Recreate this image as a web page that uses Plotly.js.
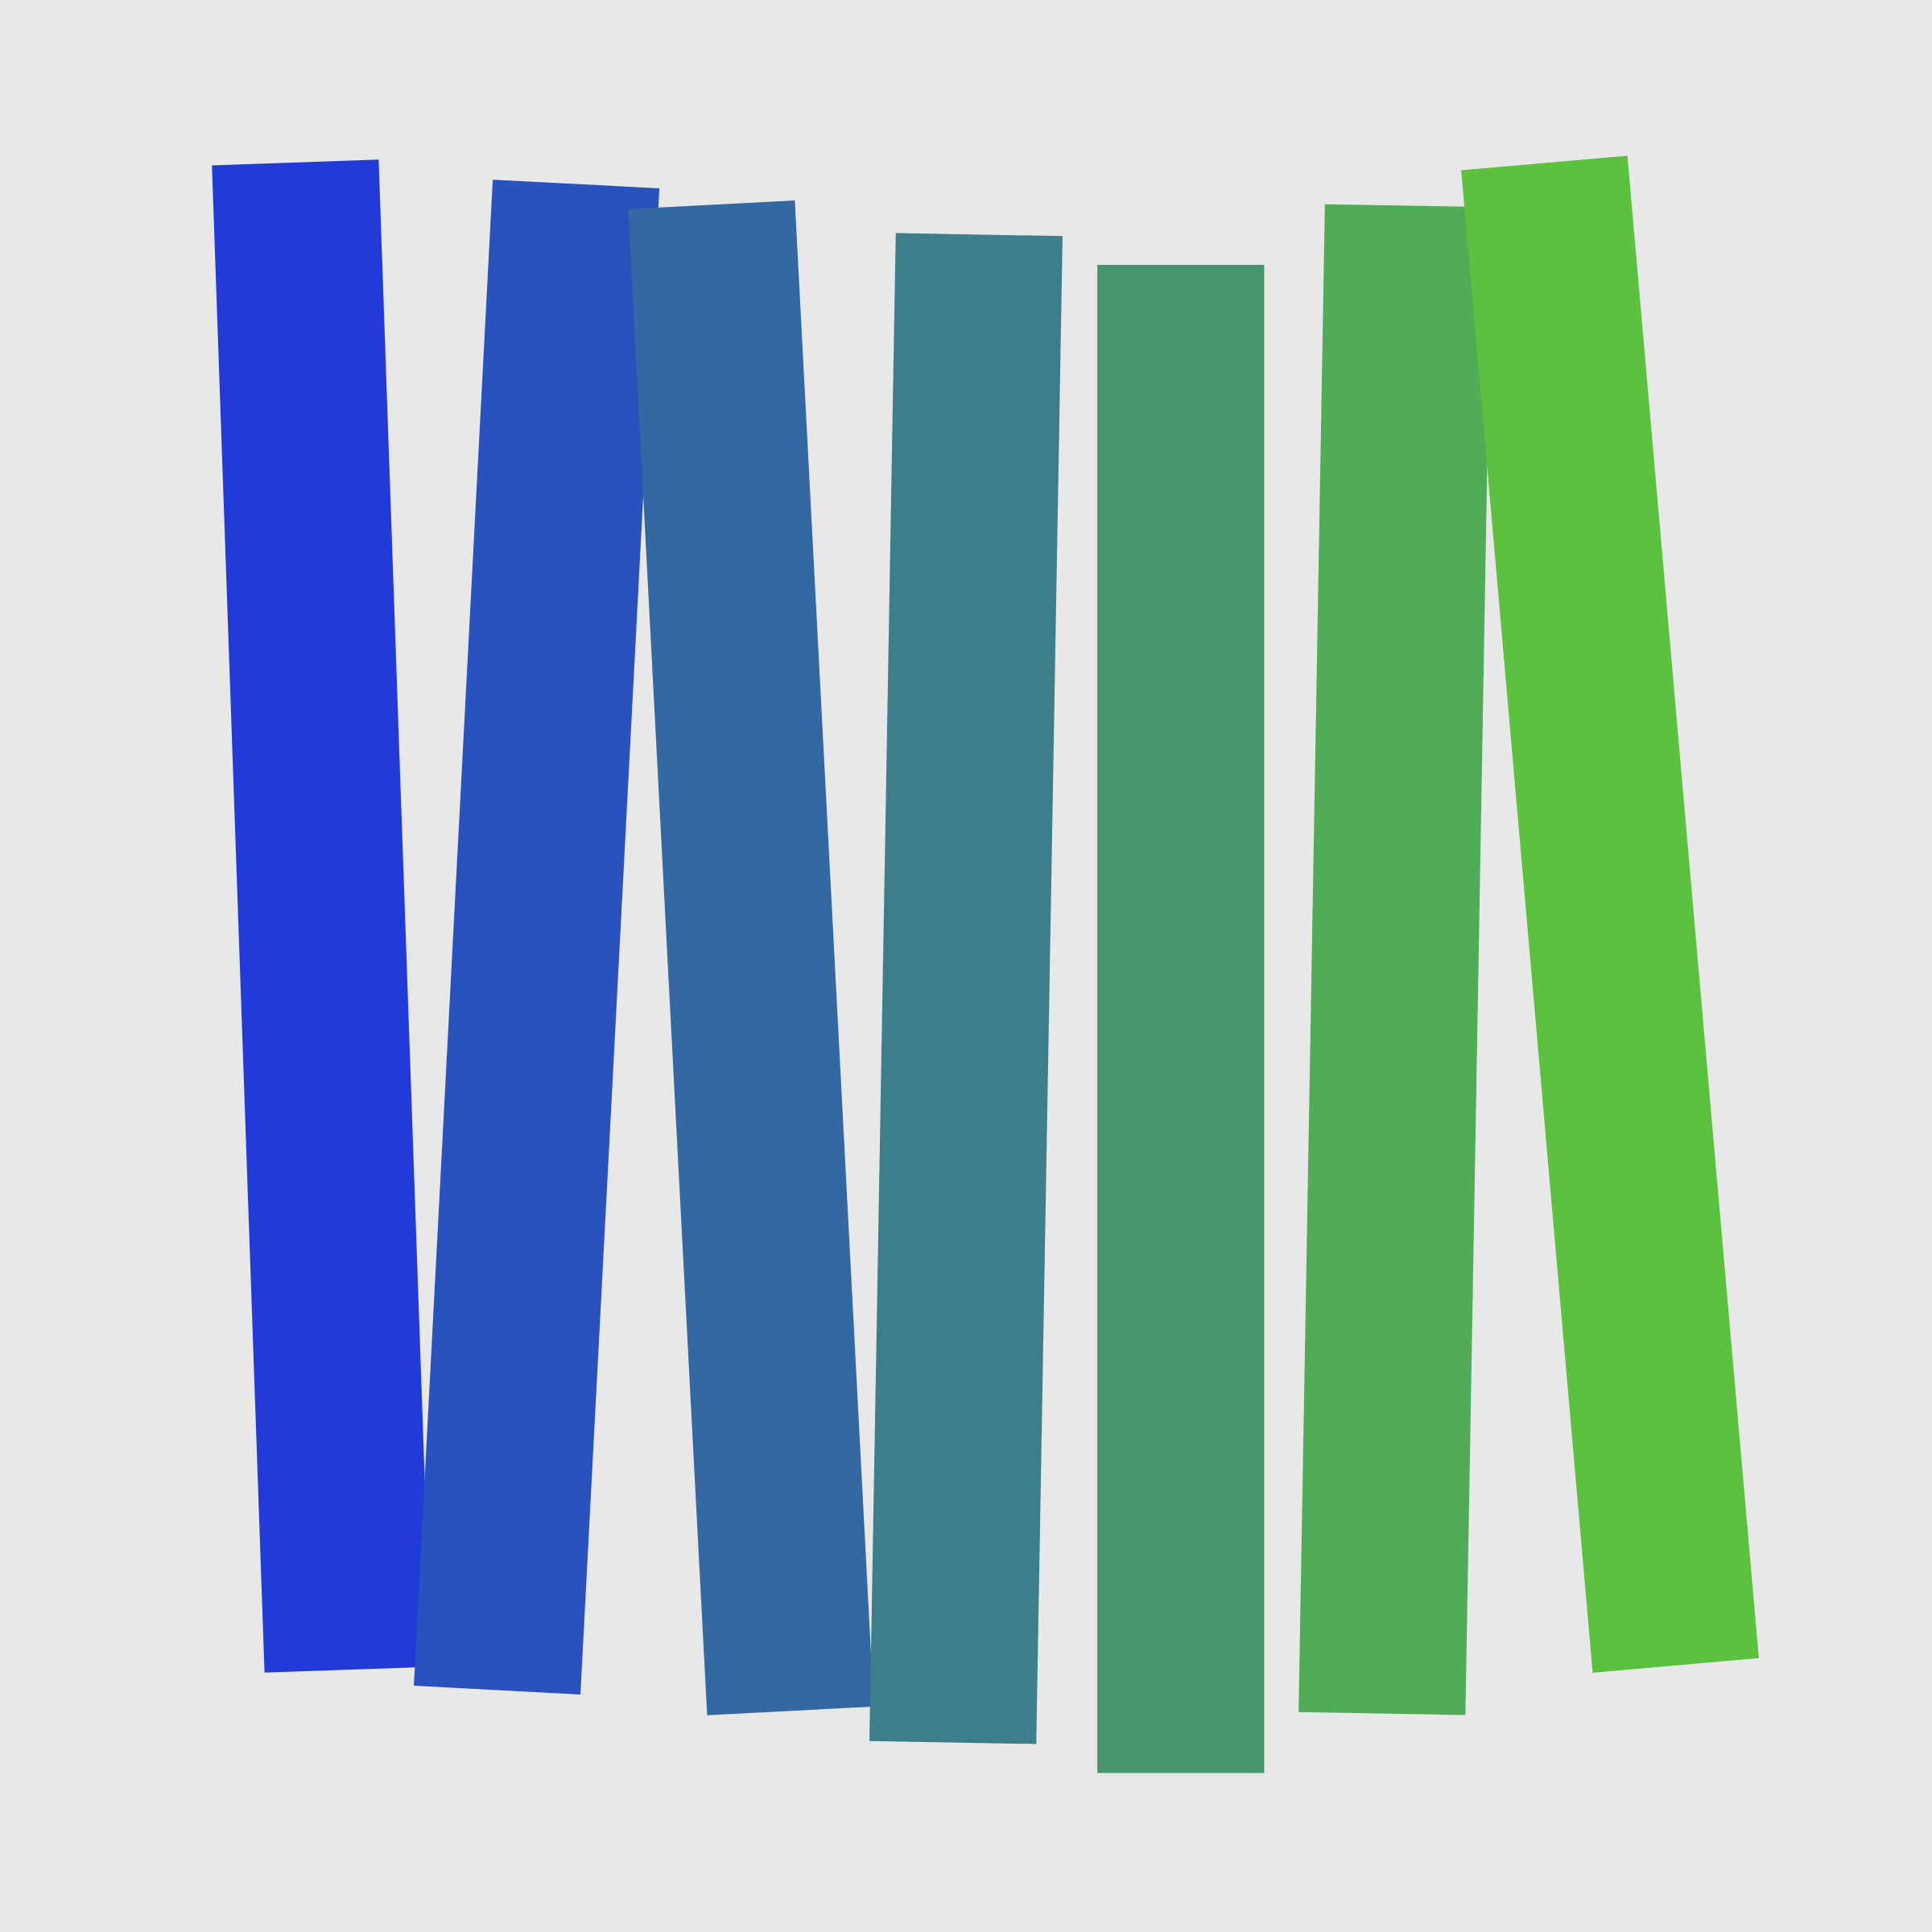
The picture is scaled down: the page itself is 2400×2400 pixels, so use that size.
<!DOCTYPE html>
<html>
<head>
<meta charset="utf-8">
<script src="https://cdn.plot.ly/plotly-3.0.1.min.js"></script>
<style>
  html, body { margin: 0; padding: 0; background: #E8E8E8; }
  #chart { width: 2400px; height: 2400px; }
</style>
</head>
<body>
<div id="chart"></div>
<script>
// Data (units: the chart's own 0..1568 coordinate frame)
const categories = ['A', 'B', 'C', 'D', 'E', 'F', 'G'];
const barLength = [1224, 1224, 1224, 1224, 1224, 1224, 1224];
const tiltDeg = [2, -3, 3, -1, 0, -1, 5];
const centerX = [261, 435.5, 609.5, 784, 958.3, 1132.3, 1306.7];
const centerY = [743.5, 760.5, 777.4, 802.3, 827, 778.8, 742];
const barColors = ['#223BD8', '#2A52BE', '#3468A3', '#3C7E8A', '#47956F', '#50AC57', '#5BC13E'];

const BAR_WIDTH = 135.4;

const traces = categories.map((name, i) => {
  const t = tiltDeg[i] * Math.PI / 180;
  const ux = Math.sin(t), uy = Math.cos(t);   // along the bar (downward)
  const vx = Math.cos(t), vy = -Math.sin(t);  // across the bar
  const hl = barLength[i] / 2, hw = BAR_WIDTH / 2;
  const cx = centerX[i], cy = centerY[i];
  const xs = [], ys = [];
  [[-1, -1], [-1, 1], [1, 1], [1, -1], [-1, -1]].forEach(([a, b]) => {
    xs.push(cx + a * hl * ux + b * hw * vx);
    ys.push(cy + a * hl * uy + b * hw * vy);
  });
  return {
    type: 'scatter',
    mode: 'lines',
    name: name,
    x: xs,
    y: ys,
    fill: 'toself',
    fillcolor: barColors[i],
    line: { width: 0, color: barColors[i], simplify: false },
    hoverinfo: 'name',
    showlegend: false
  };
});

const layout = {
  width: 2400,
  height: 2400,
  margin: { l: 0, r: 0, t: 0, b: 0, pad: 0 },
  paper_bgcolor: '#E8E8E8',
  plot_bgcolor: '#E8E8E8',
  showlegend: false,
  xaxis: {
    range: [0, 1568],
    showgrid: false, zeroline: false, showticklabels: false, showline: false, ticks: '',
    fixedrange: true
  },
  yaxis: {
    range: [1568, 0],
    showgrid: false, zeroline: false, showticklabels: false, showline: false, ticks: '',
    fixedrange: true
  }
};

Plotly.newPlot('chart', traces, layout, { displayModeBar: false, staticPlot: true });
</script>
</body>
</html>
